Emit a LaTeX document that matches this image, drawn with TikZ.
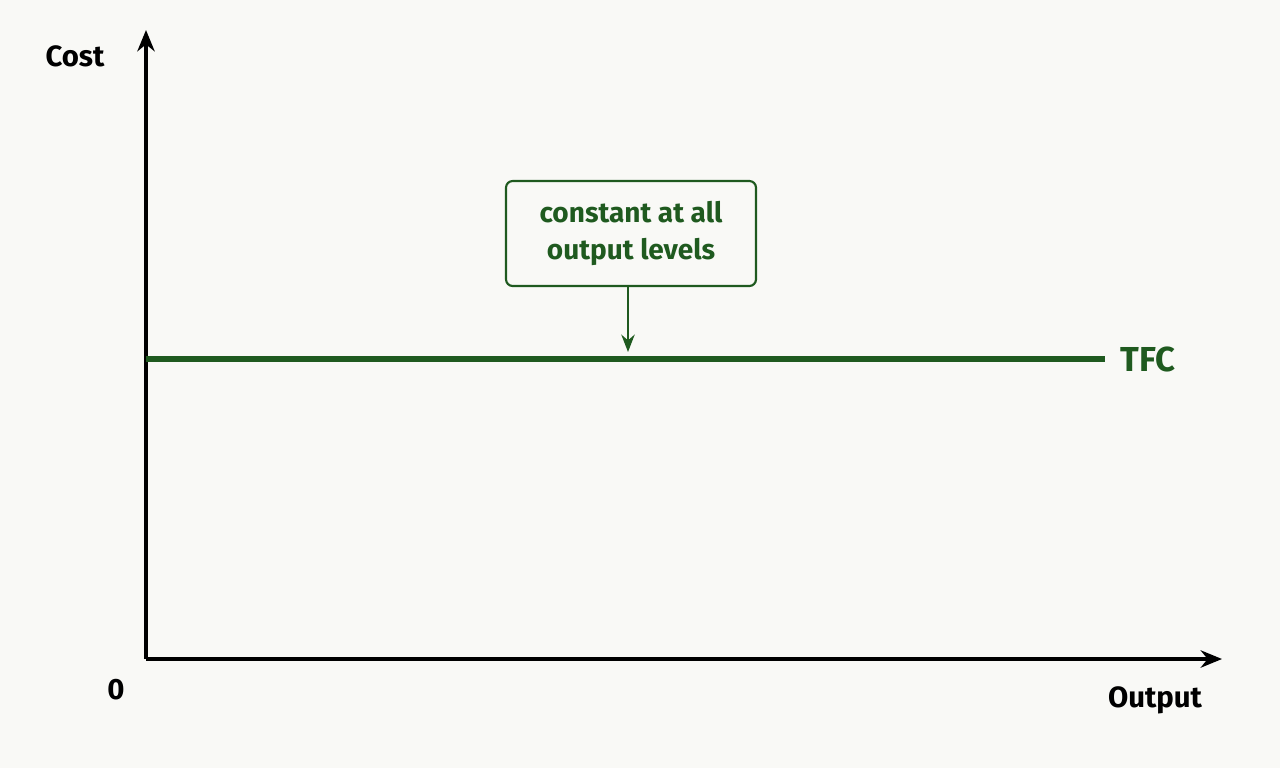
\documentclass[tikz,border=0pt]{standalone}
\usepackage{fontspec}
\setmainfont{Fira Sans}
\usetikzlibrary{arrows.meta}
\definecolor{bg}{HTML}{F9F9F6}
\definecolor{dg}{HTML}{1F5A1F}
\begin{document}
\begin{tikzpicture}[x=0.75pt,y=-0.75pt,
  axis/.style={line width=2.6pt,-{Stealth[length=16pt,width=13pt]}},
  lab/.style={font=\fontsize{22}{26}\selectfont\bfseries},
  note/.style={draw=dg,line width=1.6pt,rounded corners=5pt,text=dg,align=center,
    font=\fontsize{21}{28}\selectfont\bfseries,minimum width=187.5pt,minimum height=78.75pt}]
\fill[bg] (0,0) rectangle (1280,768);
\useasboundingbox (0,0) rectangle (1280,768);
\coordinate (o) at (146,659);
\coordinate (ytop) at (146,30);
\coordinate (xend) at (1222,659);
\coordinate (t0) at (146,359);
\coordinate (t1) at (1105,359);
\draw[axis] (o) -- (ytop);
\draw[axis] (o) -- (xend);
\draw[dg,line width=3.8pt] (t0) -- (t1);
\node[font=\fontsize{26}{30}\selectfont\bfseries,anchor=west,text=dg] (tfc) at (1116,359) {TFC};
\node[lab] (cost) at (75,56) {Cost};
\node[lab] (zero) at (116,690) {0};
\node[lab] (out) at (1155,700) {Output};
\node[note] (box) at (631,233.5) {constant at all\\output levels};
\coordinate (tip) at (628,352);
\draw[dg,line width=1.8pt,-{Stealth[length=13pt,width=10pt]}] (box.south -| tip) -- (tip);
\end{tikzpicture}
\end{document}
